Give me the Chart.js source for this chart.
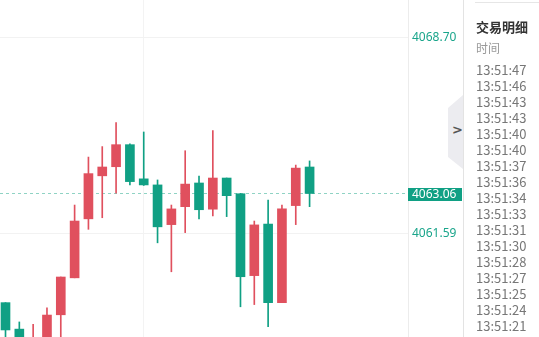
<html>
<head>
<meta charset="utf-8">
<script src="https://cdn.jsdelivr.net/npm/chart.js"></script>
<style>
    body { margin: 0; width: 539px; height: 337px; overflow: hidden; background: #fff; position: relative; }
    #chartBox { position: absolute; left: 0; top: 0; width: 463px; height: 337px; }
    #tab { position: absolute; left: 448px; top: 95px; width: 15px; height: 74px; background: #ececf0;
           clip-path: polygon(0 13px, 100% 0, 100% 100%, 0 calc(100% - 12px)); }
    #tab span { position: absolute; left: 4px; top: 27px; font: bold 13px "DejaVu Sans", sans-serif; color: #555; }
    #panel { position: absolute; left: 463px; top: 0; width: 76px; height: 337px; border-left: 1px solid #e3e3e3;
             font-family: "Noto Sans CJK SC", "Noto Sans", sans-serif; }
    #panel .topline { position: absolute; left: 11px; right: 0; top: 2px; border-top: 1px solid #e6e6e6; }
    #panel h3 { position: absolute; left: 12px; top: 17px; margin: 0; font-size: 13px; font-weight: 600; color: #333; }
    #panel .sub { position: absolute; left: 12px; top: 39px; font-size: 12px; color: #999; }
    #timeList { position: absolute; left: 12px; top: 62px; margin: 0; padding: 0; list-style: none; }
    #timeList li { height: 16px; line-height: 16px; font-size: 13px; color: #777; }
</style>
</head>
<body>
<div id="chartBox"><canvas id="kChart"></canvas></div>
<div id="tab"><span>&gt;</span></div>
<div id="panel">
    <div class="topline"></div>
    <h3>交易明细</h3>
    <div class="sub">时间</div>
    <ul id="timeList"></ul>
</div>
<script>
    // K线数据 (从左到右)
    const opens  = [4059.10, 4058.14, 4057.30, 4057.70, 4058.66, 4060.00, 4062.14, 4063.70, 4064.03, 4064.83, 4063.59, 4063.37,
                    4061.93, 4062.58, 4063.44, 4062.49, 4063.62, 4063.05, 4060.08, 4061.95, 4059.10, 4062.62, 4064.02];
    const closes = [4058.11, 4057.70, 4057.75, 4058.65, 4060.03, 4062.06, 4063.78, 4064.02, 4064.83, 4063.49, 4063.37, 4061.85,
                    4062.50, 4063.40, 4062.47, 4063.62, 4062.98, 4060.04, 4061.92, 4059.10, 4062.50, 4063.98, 4063.06];
    const highs  = [4059.10, 4058.40, 4058.31, 4058.91, 4060.03, 4062.64, 4064.38, 4064.76, 4065.63, 4064.86, 4065.29, 4063.55,
                    4062.64, 4064.61, 4063.69, 4065.34, 4063.62, 4063.06, 4062.06, 4062.82, 4062.64, 4064.09, 4064.24];
    const lows   = [4057.56, 4057.50, 4057.20, 4057.50, 4057.60, 4060.00, 4061.76, 4062.18, 4063.07, 4063.37, 4063.35, 4061.27,
                    4060.22, 4061.64, 4062.14, 4062.25, 4062.22, 4058.95, 4059.03, 4058.23, 4059.10, 4061.93, 4062.58];
    const priceTicks = [4061.59, 4068.70];
    const lastPrice = 4063.06;
    const gridIndex = [10];
    const tradeTimes = ['13:51:47', '13:51:46', '13:51:43', '13:51:43', '13:51:40', '13:51:40', '13:51:37', '13:51:36', '13:51:34',
                        '13:51:33', '13:51:31', '13:51:30', '13:51:28', '13:51:27', '13:51:25', '13:51:24', '13:51:21'];

    const upColor = '#e0505e';
    const downColor = '#10a084';
    const tealText = '#1aa58b';

    // 交易明细 列表
    const timeListElement = document.getElementById('timeList');
    tradeTimes.forEach(t => {
        const li = document.createElement('li');
        li.textContent = t;
        timeListElement.appendChild(li);
    });

    const candleColors = opens.map((o, i) => closes[i] >= o ? upColor : downColor);
    const bodies = opens.map((o, i) => ({ x: i, y: [o, closes[i]] }));
    const wicks = lows.map((l, i) => ({ x: i, y: [l, highs[i]] }));

    // 当前价 虚线 (K线下面) + 右侧标签
    const lastPricePlugin = {
        id: 'lastPrice',
        beforeDatasetsDraw(chart) {
            const ctx = chart.ctx;
            const area = chart.chartArea;
            const y = Math.round(chart.scales.y.getPixelForValue(lastPrice)) + 0.5;
            ctx.save();
            ctx.strokeStyle = '#8fd3c4';
            ctx.lineWidth = 1;
            ctx.setLineDash([3, 3]);
            ctx.beginPath();
            ctx.moveTo(area.left, y);
            ctx.lineTo(area.right, y);
            ctx.stroke();
            ctx.restore();
        },
        afterDatasetsDraw(chart) {
            const ctx = chart.ctx;
            const area = chart.chartArea;
            const y = Math.round(chart.scales.y.getPixelForValue(lastPrice));
            ctx.save();
            ctx.fillStyle = downColor;
            ctx.fillRect(area.right, y - 5, chart.width - area.right - 1, 13);
            ctx.fillStyle = '#fff';
            ctx.font = '12px "Noto Sans", sans-serif';
            ctx.textBaseline = 'middle';
            ctx.fillText(lastPrice.toFixed(2), area.right + 4, y + 1.5);
            ctx.restore();
        }
    };

    new Chart(document.getElementById('kChart'), {
        type: 'bar',
        data: {
            datasets: [
                {
                    data: bodies,
                    backgroundColor: candleColors,
                    barThickness: 9,
                    grouped: false,
                    order: 1
                },
                {
                    data: wicks,
                    backgroundColor: candleColors,
                    barThickness: 1,
                    grouped: false,
                    order: 2
                }
            ]
        },
        options: {
            responsive: true,
            maintainAspectRatio: false,
            animation: false,
            layout: { padding: 0 },
            plugins: { legend: { display: false }, tooltip: { enabled: false } },
            scales: {
                x: {
                    type: 'linear',
                    offset: false,
                    min: -0.398,
                    max: 29.12,
                    grid: { color: '#f3f3f3', drawTicks: false, offset: false },
                    border: { display: false },
                    ticks: { display: false },
                    afterBuildTicks(scale) { scale.ticks = gridIndex.map(v => ({ value: v })); },
                    afterFit(scale) {
                        scale.height = 0;
                        scale.paddingLeft = 0; scale.paddingRight = 0;
                    }
                },
                y: {
                    position: 'right',
                    min: 4057.854,
                    max: 4070.077,
                    grid: { color: '#f2f2f2', drawTicks: false },
                    border: { color: '#ececec' },
                    ticks: {
                        color: tealText,
                        padding: 4,
                        font: { size: 12, family: '"Noto Sans", sans-serif' },
                        callback: v => v.toFixed(2)
                    },
                    afterBuildTicks(scale) { scale.ticks = priceTicks.map(v => ({ value: v })); },
                    afterFit(scale) {
                        scale.width = 55;
                        scale.paddingTop = 0; scale.paddingBottom = 0;
                    }
                }
            }
        },
        plugins: [lastPricePlugin]
    });
</script>
</body>
</html>
